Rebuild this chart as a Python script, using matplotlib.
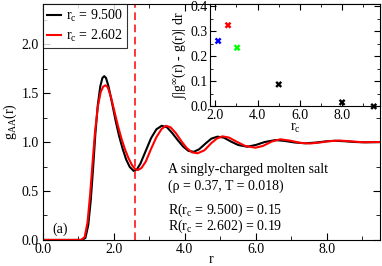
import matplotlib
matplotlib.use('Agg')
import matplotlib.pyplot as plt
from matplotlib.ticker import MultipleLocator, FormatStrFormatter

plt.rcParams['font.family'] = ['Liberation Serif', 'DejaVu Serif']
plt.rcParams['mathtext.fontset'] = 'custom'
plt.rcParams['mathtext.rm'] = 'Liberation Serif'
plt.rcParams['mathtext.it'] = 'Liberation Serif:italic'
plt.rcParams['mathtext.default'] = 'regular'
plt.rcParams['font.size'] = 10

# g_AA(r), r_c = 9.500 (black)
r_black = [0.0, 1.10, 1.20, 1.28, 1.35, 1.42, 1.48, 1.55, 1.62, 1.68, 1.73, 1.78, 1.85,
           1.95, 2.05, 2.15, 2.25, 2.35, 2.45, 2.56, 2.65, 2.75, 2.90, 3.05, 3.20, 3.35,
           3.50, 3.65, 3.80, 3.95, 4.10, 4.25, 4.40, 4.60, 4.75, 4.92, 5.10, 5.30, 5.50,
           5.76, 6.00, 6.25, 6.55, 6.80, 7.10, 7.39, 7.70, 8.00, 8.23, 8.50, 8.80, 9.10, 9.50]
g_black = [0.0, 0.0, 0.02, 0.15, 0.40, 0.75, 1.08, 1.38, 1.57, 1.655, 1.673, 1.655, 1.57,
           1.40, 1.22, 1.06, 0.93, 0.82, 0.745, 0.705, 0.72, 0.78, 0.91, 1.04, 1.13, 1.166,
           1.15, 1.09, 1.02, 0.955, 0.91, 0.90, 0.925, 0.99, 1.035, 1.055, 1.045, 1.005, 0.97,
           0.952, 0.97, 1.0, 1.02, 1.012, 0.995, 0.987, 0.995, 1.008, 1.013, 1.008, 1.0, 0.997, 1.0]

# g_AA(r), r_c = 2.602 (red)
r_red = [0.0, 1.08, 1.18, 1.26, 1.33, 1.40, 1.47, 1.55, 1.63, 1.70, 1.765, 1.83, 1.92,
         2.02, 2.12, 2.22, 2.32, 2.42, 2.52, 2.60, 2.68, 2.78, 2.90, 3.05, 3.20, 3.35,
         3.47, 3.60, 3.75, 3.90, 4.05, 4.20, 4.36, 4.55, 4.75, 4.90, 5.06, 5.25, 5.45,
         5.70, 5.99, 6.20, 6.45, 6.69, 6.95, 7.25, 7.53, 7.80, 8.05, 8.35, 8.65, 9.00, 9.50]
g_red = [0.0, 0.0, 0.03, 0.18, 0.45, 0.78, 1.10, 1.36, 1.51, 1.565, 1.58, 1.56, 1.46,
         1.31, 1.16, 1.03, 0.92, 0.83, 0.76, 0.725, 0.714, 0.735, 0.80, 0.93, 1.05, 1.135,
         1.166, 1.15, 1.09, 1.01, 0.94, 0.895, 0.885, 0.915, 0.99, 1.035, 1.058, 1.045, 1.005,
         0.96, 0.942, 0.96, 1.005, 1.028, 1.015, 0.992, 0.985, 0.995, 1.008, 1.015, 1.008, 0.998, 1.0]

r_cut = 2.602

# inset: integrated deviation vs r_c
rc_vals = [2.13, 2.60, 3.03, 5.0, 8.0, 9.5]
dev_vals = [0.262, 0.325, 0.235, 0.088, 0.016, 0.0]
dev_colors = ['#0000ff', '#ff0000', '#00ff00', 'black', 'black', 'black']

fig = plt.figure(figsize=(3.82, 2.66), dpi=100)
ax = fig.add_axes([0.112, 0.098, 0.883, 0.887])

ax.plot(r_black, g_black, color='black', lw=1.5, label='r$_c$ = 9.500')
ax.plot(r_red, g_red, color='red', lw=1.5, label='r$_c$ = 2.602')
ax.axvline(r_cut, color='red', lw=1.1, ls=(0, (5, 3)))

ax.set_xlim(0, 9.5)
ax.set_ylim(0, 2.41)
ax.xaxis.set_major_locator(MultipleLocator(2))
ax.xaxis.set_minor_locator(MultipleLocator(1))
ax.yaxis.set_major_locator(MultipleLocator(0.5))
ax.yaxis.set_minor_locator(MultipleLocator(0.25))
ax.xaxis.set_major_formatter(FormatStrFormatter('%.1f'))
ax.yaxis.set_major_formatter(FormatStrFormatter('%.1f'))
ax.tick_params(which='both', direction='in', top=True, right=True)
ax.tick_params(axis='x', pad=2)
ax.tick_params(axis='y', pad=3)
ax.tick_params(which='major', length=5)
ax.tick_params(which='minor', length=3)
ax.set_xlabel('r', labelpad=-2)
ax.set_ylabel('g$_{AA}$(r)', labelpad=2)

leg = ax.legend(loc='upper left', bbox_to_anchor=(0.0, 1.0), frameon=True, fancybox=False,
                handlelength=1.0, handletextpad=0.4, borderpad=0.3, labelspacing=0.25,
                borderaxespad=0.0)
leg.get_frame().set_edgecolor('black')
leg.get_frame().set_linewidth(0.8)

ax.text(0.027, 0.03, '(a)', transform=ax.transAxes)
ax.text(0.372, 0.297, 'A singly-charged molten salt', transform=ax.transAxes, va='center')
ax.text(0.372, 0.226, '(ρ = 0.37, T = 0.018)', transform=ax.transAxes, va='center')
ax.text(0.372, 0.127, 'R(r$_c$ = 9.500) = 0.15', transform=ax.transAxes, va='center')
ax.text(0.372, 0.057, 'R(r$_c$ = 2.602) = 0.19', transform=ax.transAxes, va='center')

ins = fig.add_axes([0.55, 0.60, 0.445, 0.385])
ins.scatter(rc_vals, dev_vals, c=dev_colors, marker='X', s=24, linewidths=0, zorder=3,
            clip_on=False)
ins.set_xlim(1.75, 9.8)
ins.set_ylim(0, 0.41)
ins.xaxis.set_major_locator(MultipleLocator(2))
ins.xaxis.set_minor_locator(MultipleLocator(1))
ins.yaxis.set_major_locator(MultipleLocator(0.1))
ins.yaxis.set_minor_locator(MultipleLocator(0.05))
ins.xaxis.set_major_formatter(FormatStrFormatter('%.1f'))
ins.yaxis.set_major_formatter(FormatStrFormatter('%.1f'))
ins.tick_params(which='both', direction='in', top=True, right=True, pad=2)
ins.tick_params(which='major', length=4)
ins.tick_params(which='minor', length=2)
ins.set_xlabel('r$_c$', labelpad=0)
ins.set_ylabel(r'$\int$|g$^{\infty}$(r) - g(r)| dr', labelpad=1)

fig.savefig('out.png', dpi=100)
